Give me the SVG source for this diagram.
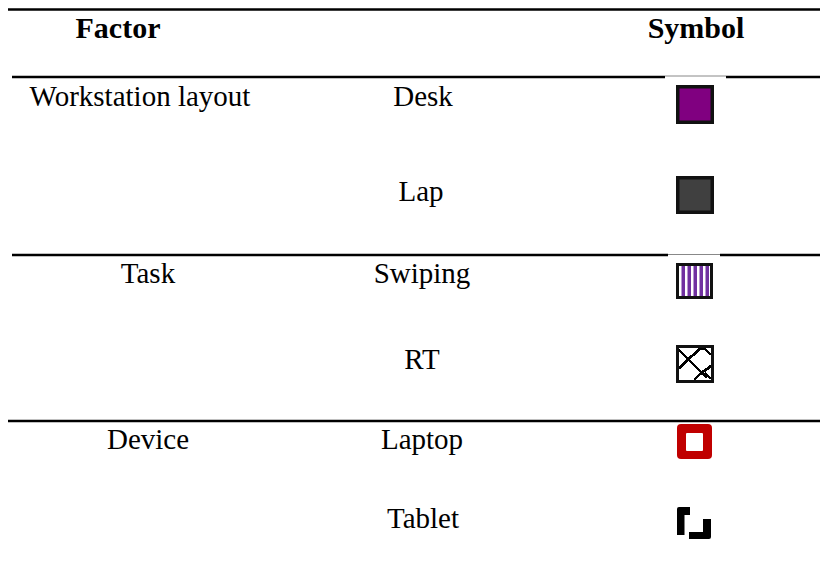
<svg xmlns="http://www.w3.org/2000/svg" width="820" height="583" viewBox="0 0 820 583">
  <style>
    text { font-family: "Liberation Serif", "Times New Roman", serif; font-size: 29px; fill: #000; text-anchor: middle; }
    .hd { font-weight: bold; font-size: 30px; }
    .rule { stroke: #000; stroke-width: 2.5; }
    .rule-gap { stroke: #888; stroke-width: 1; }
    .frame { stroke: #111; stroke-width: 3.5; }
  </style>
  <rect width="820" height="583" fill="#fff"/>

  <!-- table rules -->
  <g id="rules">
    <line class="rule" x1="8" y1="9.5" x2="820" y2="9.5"/>
    <line class="rule" x1="12" y1="77" x2="665" y2="77"/>
    <line class="rule-gap" x1="665" y1="76" x2="726" y2="76"/>
    <line class="rule" x1="726" y1="77" x2="820" y2="77"/>
    <line class="rule" x1="12" y1="255" x2="668" y2="255"/>
    <line class="rule-gap" x1="668" y1="254.5" x2="720" y2="254.5"/>
    <line class="rule" x1="720" y1="255" x2="820" y2="255"/>
    <line class="rule" x1="8" y1="421" x2="820" y2="421"/>
  </g>

  <!-- header -->
  <g id="header">
    <text class="hd" x="118" y="38">Factor</text>
    <text class="hd" x="696" y="38">Symbol</text>
  </g>

  <!-- workstation layout -->
  <g id="row-desk">
    <text x="140" y="106">Workstation layout</text>
    <text x="423" y="106">Desk</text>
    <rect class="frame" x="677.75" y="86.75" width="34.5" height="35.5" fill="#800080"/>
  </g>
  <g id="row-lap">
    <text x="421" y="201">Lap</text>
    <rect class="frame" x="677.75" y="177.75" width="34.5" height="34.5" fill="#404040"/>
  </g>

  <!-- task -->
  <g id="row-swiping">
    <text x="148" y="283">Task</text>
    <text x="422" y="283">Swiping</text>
    <rect x="676" y="263" width="37" height="36" fill="#fff"/>
    <g fill="#7030A0">
      <rect x="681.5" y="265" width="3.5" height="32"/>
      <rect x="687.5" y="265" width="3.5" height="32"/>
      <rect x="693.5" y="265" width="3.5" height="32"/>
      <rect x="699.5" y="265" width="3.5" height="32"/>
      <rect x="705.5" y="265" width="3.5" height="32"/>
    </g>
    <rect x="677.5" y="264.5" width="34" height="33" fill="none" stroke="#111" stroke-width="3"/>
  </g>
  <g id="row-rt">
    <text x="422" y="369">RT</text>
    <rect x="677.5" y="346.5" width="35" height="35" fill="#fff"/>
    <g stroke="#000" stroke-width="2.8" fill="none" shape-rendering="crispEdges">
      <path d="M679,350 L707,378"/>
      <path d="M679,369 L693,355 L700,349 L705,348"/>
      <path d="M694,380 L700,374 L711,366"/>
      <path d="M704,348 L711,355"/>
      <path d="M705,373 L711,379"/>
    </g>
    <rect x="677.5" y="346.5" width="35" height="35" fill="none" stroke="#111" stroke-width="3"/>
  </g>

  <!-- device -->
  <g id="row-laptop">
    <text x="148" y="449">Device</text>
    <text x="422" y="449">Laptop</text>
    <rect x="677" y="424" width="35" height="35" rx="4" fill="#C00000"/>
    <rect x="686" y="433" width="17" height="18" rx="1" fill="#fff"/>
  </g>
  <g id="row-tablet">
    <text x="423" y="528">Tablet</text>
    <path d="M677,509 Q677,507 679,507 L690,507 L690,515 L684.5,515 L684.5,535 L677,535 Z" fill="#000"/>
    <path d="M703,519 L711,519 L711,537 Q711,539 709,539 L689,539 L689,532 L703,532 Z" fill="#000"/>
  </g>
</svg>
